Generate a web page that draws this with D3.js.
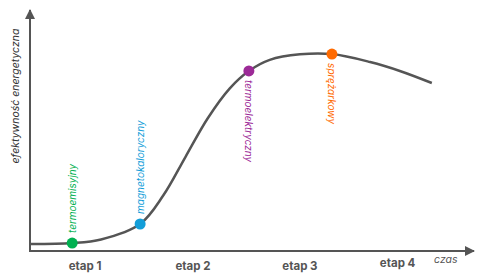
<!DOCTYPE html>
<html>
<head>
<meta charset="utf-8">
<script src="https://cdn.jsdelivr.net/npm/d3@7"></script>
<style>
  html, body { margin: 0; padding: 0; background: #fff; }
  svg { display: block; font-family: Inter, "Noto Sans", sans-serif; }
</style>
</head>
<body>
<svg id="chart" width="493" height="275"></svg>
<script>
// curve of efficiency over time (t and e in 0..100 units)
const curveT = [0.2, 9.5, 16, 24.8, 30, 35, 40, 45, 49.3, 54, 60.8, 68, 76.6, 83.3, 90.5];
const curveE = [2.9, 3.3, 4.8, 11.2, 23, 39, 55, 67.5, 74.7, 79.3, 81.6, 81.7, 78.4, 74.7, 69.7];

// technologies marked on the curve
const techNames = ['termoemisyjny', 'magnetokaloryczny', 'termoelektryczny', 'sprężarkowy'];
const techT = [9.5, 24.8, 49.3, 68];
const techE = [3.3, 11.2, 74.7, 81.7];
const techColors = ['#00b050', '#139ed9', '#9c2a97', '#ff6a00'];
const techSide = ['up', 'up', 'down', 'down'];

// stages along the time axis
const stageLabels = ['etap 1', 'etap 2', 'etap 3', 'etap 4'];
const stageT = [12.4, 36.7, 60.8, 82.8];

const svg = d3.select('#chart');
const axisColor = '#555';

const x = d3.scaleLinear().domain([0, 100]).range([30, 474]);
const y = d3.scaleLinear().domain([0, 100]).range([251, 10]);

// arrow heads
const defs = svg.append('defs');
defs.append('marker')
  .attr('id', 'arrow')
  .attr('viewBox', '0 0 10 10')
  .attr('refX', 9).attr('refY', 5)
  .attr('markerWidth', 5).attr('markerHeight', 5)
  .attr('markerUnits', 'strokeWidth')
  .attr('orient', 'auto')
  .append('path')
  .attr('d', 'M0,0 L10,5 L0,10 z')
  .attr('fill', axisColor);

// axes
svg.append('line')
  .attr('x1', x(0)).attr('y1', y(0))
  .attr('x2', x(0)).attr('y2', y(100))
  .attr('stroke', axisColor).attr('stroke-width', 2)
  .attr('marker-end', 'url(#arrow)');
svg.append('line')
  .attr('x1', x(0) - 1).attr('y1', y(0))
  .attr('x2', x(100)).attr('y2', y(0))
  .attr('stroke', axisColor).attr('stroke-width', 2)
  .attr('marker-end', 'url(#arrow)');

// axis titles
svg.append('text')
  .attr('transform', `translate(19,${96}) rotate(-90)`)
  .attr('text-anchor', 'middle')
  .attr('font-size', 10.5)
  .attr('font-style', 'italic')
  .attr('fill', '#333')
  .text('efektywność energetyczna');

svg.append('text')
  .attr('x', x(91)).attr('y', 263)
  .attr('font-size', 10.5)
  .attr('font-style', 'italic')
  .attr('fill', '#555')
  .text('czas');

// stage labels
svg.append('g').selectAll('text')
  .data(stageLabels)
  .join('text')
  .attr('x', (d, i) => x(stageT[i]))
  .attr('y', (d, i) => i === 3 ? 267 : 270)
  .attr('text-anchor', 'middle')
  .attr('font-size', 11.5)
  .attr('font-weight', 'bold')
  .attr('fill', '#555')
  .text(d => d);

// efficiency curve
const line = d3.line()
  .x((d, i) => x(curveT[i]))
  .y((d, i) => y(curveE[i]))
  .curve(d3.curveCatmullRom.alpha(0.5));

svg.append('path')
  .datum(curveT)
  .attr('d', line)
  .attr('fill', 'none')
  .attr('stroke', '#555')
  .attr('stroke-width', 2.5);

// technology markers
const tech = svg.append('g').selectAll('g')
  .data(techNames)
  .join('g');

tech.append('circle')
  .attr('cx', (d, i) => x(techT[i]))
  .attr('cy', (d, i) => y(techE[i]))
  .attr('r', 5.5)
  .attr('fill', (d, i) => techColors[i]);

tech.append('text')
  .attr('transform', (d, i) => {
    const px = x(techT[i]), py = y(techE[i]);
    return techSide[i] === 'up'
      ? `translate(${px + 3.5},${py - 10}) rotate(-90)`
      : `translate(${px - 3.5},${py + 9}) rotate(90)`;
  })
  .attr('font-size', 10)
  .attr('font-style', 'italic')
  .attr('fill', (d, i) => techColors[i])
  .text(d => d);
</script>
</body>
</html>
